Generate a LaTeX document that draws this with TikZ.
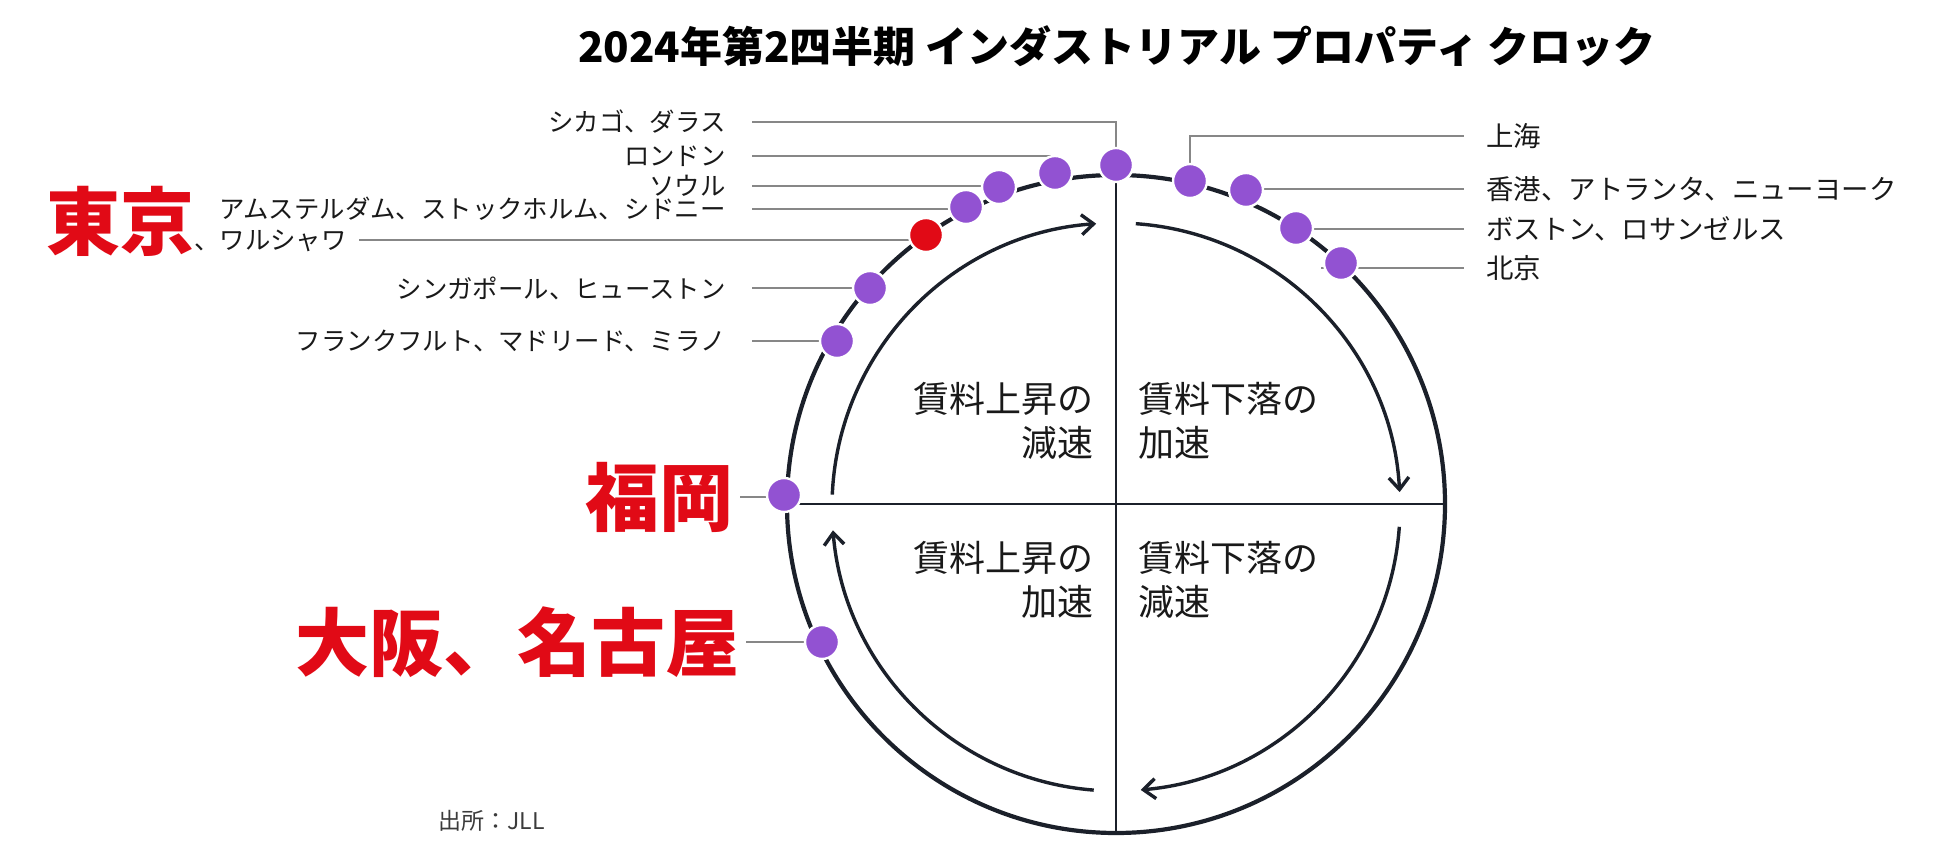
\documentclass[tikz,border=0pt]{standalone}
\usepackage{fontspec}
\setmainfont{Noto Sans CJK JP}
\usetikzlibrary{arrows.meta,calc}
\definecolor{ink}{RGB}{27,32,42}
\definecolor{dotp}{RGB}{146,82,210}
\definecolor{jred}{RGB}{225,10,22}
\definecolor{lead}{RGB}{135,135,135}
\definecolor{txt}{RGB}{25,25,25}
\begin{document}
\begin{tikzpicture}[x=0.5pt,y=0.5pt,
  dotm/.style={circle, fill=dotp, draw=white, line width=1.2pt, minimum size=17pt, inner sep=0pt},
  dotr/.style={dotm, fill=jred},
  leadl/.style={draw=lead, line width=1pt},
  llab/.style={anchor=east, inner xsep=13pt, inner ysep=0pt, font=\fontsize{12.7}{15}\selectfont, text=txt},
  rlab/.style={anchor=west, inner xsep=11pt, inner ysep=0pt, font=\fontsize{13.7}{16}\selectfont, text=txt},
  big/.style={anchor=east, inner xsep=3pt, inner ysep=0pt, font=\fontsize{37}{40}\selectfont\bfseries, text=jred},
  quad/.style={inner sep=0pt, font=\fontsize{18}{22}\selectfont, text=txt},
  ring/.style={draw=ink, line width=2.1pt},
  axisl/.style={draw=ink, line width=1.3pt},
  cyc/.style={draw=ink, line width=1.7pt, -{Straight Barb[length=6pt,width=10pt]}},
]
\fill[white] (0,0) rectangle (1950,857);
\useasboundingbox (0,0) rectangle (1950,857);

% title
\node[font=\fontsize{21}{24}\selectfont\bfseries, text=black] (title) at (1117,811) {2024年第2四半期 インダストリアル プロパティ クロック};

% clock
\coordinate (C) at (1116,353);
\coordinate (Ci) at (1116,350);
\coordinate (atop) at ($(C)+(90:329)$);
\coordinate (abot) at ($(C)+(-90:329)$);
\coordinate (aleft) at ($(C)+(180:329)$);
\coordinate (aright) at ($(C)+(0:329)$);
\draw[ring] (C) circle[radius=329];
\draw[axisl] (atop) -- (abot);
\draw[axisl] (aleft) -- (aright);

\draw[cyc] ($(Ci)+(177.5:284)$) arc[start angle=177.5, end angle=94, radius=284];
\draw[cyc] ($(Ci)+(86:284)$) arc[start angle=86, end angle=3, radius=284];
\draw[cyc] ($(Ci)+(-4:284)$) arc[start angle=-4, end angle=-85, radius=284];
\draw[cyc] ($(Ci)+(-94.5:284)$) arc[start angle=-94.5, end angle=-175.3, radius=284];

% quadrant labels
\node[quad, anchor=east, align=right] (qtl) at (1094,436) {賃料上昇の\\減速};
\node[quad, anchor=west, align=left] (qtr) at (1138,436) {賃料下落の\\加速};
\node[quad, anchor=east, align=right] (qbl) at (1094,277) {賃料上昇の\\加速};
\node[quad, anchor=west, align=left] (qbr) at (1138,277) {賃料下落の\\減速};

% dot positions
\coordinate (pchi) at (1116,692);
\coordinate (plon) at (1055,684);
\coordinate (pseo) at (999,670);
\coordinate (pams) at (966,650);
\coordinate (ptok) at (926,622);
\coordinate (psin) at (870,569);
\coordinate (pfra) at (837,516);
\coordinate (pfuk) at (784,362);
\coordinate (posa) at (822,215);
\coordinate (psha) at (1190,676);
\coordinate (phk) at (1246,667);
\coordinate (pbos) at (1296,629);
\coordinate (pbei) at (1341,594);

% left labels
\node[llab] (lchi) at (752,735) {シカゴ、ダラス};
\node[llab] (llon) at (752,701) {ロンドン};
\node[llab] (lseo) at (752,671) {ソウル};
\node[llab] (lams) at (752,648) {アムステルダム、ストックホルム、シドニー};
\node[llab] (lsin) at (752,569) {シンガポール、ヒューストン};
\node[llab] (lfra) at (752,516) {フランクフルト、マドリード、ミラノ};
\node[anchor=base east, inner sep=0pt, text=txt, font=\fontsize{12.7}{15}\selectfont] (ltok) at (347,607) {{\color{jred}\fontsize{37}{40}\selectfont\bfseries 東京}、ワルシャワ};
\coordinate (ctok) at (359,617);
\node[big] (lfuk) at (740,360) {福岡};
\node[big] (losa) at (746,215) {大阪、名古屋};

% right labels
\node[rlab] (lsha) at (1464,721) {上海};
\node[rlab] (lhk) at (1464,668) {香港、アトランタ、ニューヨーク};
\node[rlab] (lbos) at (1464,628) {ボストン、ロサンゼルス};
\node[rlab] (lbei) at (1464,589) {北京};
\coordinate (sbei) at (1321,589);

% leaders
\draw[leadl] (lchi.east) -| (pchi);
\draw[leadl] (llon.east) -| (plon);
\draw[leadl] (lseo.east) -| (pseo);
\draw[leadl] (lams.east) -| (pams);
\draw[leadl] (ctok) -| (ptok);
\draw[leadl] (lsin.east) -| (psin);
\draw[leadl] (lfra.east) -| (pfra);
\draw[leadl] (lfuk.east) -| (pfuk);
\draw[leadl] (losa.east) -| (posa);
\draw[leadl] (psha) |- (lsha.west);
\draw[leadl] (phk) |- (lhk.west);
\draw[leadl] (pbos) |- (lbos.west);
\draw[leadl] (sbei) -- (lbei.west);

% dots
\node[dotm] (dchi) at (pchi) {};
\node[dotm] (dlon) at (plon) {};
\node[dotm] (dseo) at (pseo) {};
\node[dotm] (dams) at (pams) {};
\node[dotr] (dtok) at (ptok) {};
\node[dotm] (dsin) at (psin) {};
\node[dotm] (dfra) at (pfra) {};
\node[dotm] (dfuk) at (pfuk) {};
\node[dotm] (dosa) at (posa) {};
\node[dotm] (dsha) at (psha) {};
\node[dotm] (dhk) at (phk) {};
\node[dotm] (dbos) at (pbos) {};
\node[dotm] (dbei) at (pbei) {};

% source
\node[anchor=west, inner sep=0pt, font=\fontsize{11.5}{13}\selectfont, text=txt!85] (src) at (438,36) {出所：JLL};
\end{tikzpicture}
\end{document}
